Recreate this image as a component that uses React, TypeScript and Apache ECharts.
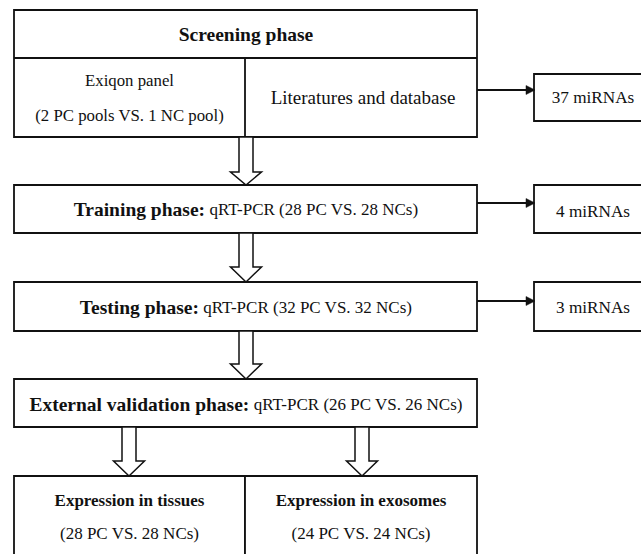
import React, { useEffect, useRef } from "react";
import * as echarts from "echarts";

// ---- content ----
const screeningTitle = "Screening phase";
const screeningLeft = ["Exiqon panel", "(2 PC pools VS. 1 NC pool)"];
const screeningRight = "Literatures and database";
const phaseNames = ["Training phase:", "Testing phase:", "External validation phase:"];
const phaseMethods = [
  "qRT-PCR (28 PC VS. 28 NCs)",
  "qRT-PCR (32 PC VS. 32 NCs)",
  "qRT-PCR (26 PC VS. 26 NCs)",
];
const resultLabels = ["37 miRNAs", "4 miRNAs", "3 miRNAs"];
const finalTitles = ["Expression in tissues", "Expression in exosomes"];
const finalSamples = ["(28 PC VS. 28 NCs)", "(24 PC VS. 24 NCs)"];

// ---- layout ----
const L = 14;
const R = 477;
const MID = 245;
const CX = 246;
const FONT = "Liberation Serif";
const BORDER = 1.8;

const phaseBoxes = [
  { y1: 185, y2: 233, ty: 209, ay: 203 },
  { y1: 282, y2: 331, ty: 307, ay: 301 },
  { y1: 379, y2: 427, ty: 404 },
];
const resultBoxes = [
  { y1: 74, y2: 121, ty: 97, ay: 90 },
  { y1: 185, y2: 233, ty: 211, ay: 203 },
  { y1: 282, y2: 331, ty: 307, ay: 301 },
];

function rect(x1: number, y1: number, x2: number, y2: number) {
  return {
    type: "rect",
    shape: { x: x1, y: y1, width: x2 - x1, height: y2 - y1 },
    style: { fill: "#fff", stroke: "#111", lineWidth: BORDER },
  };
}

function line(x1: number, y1: number, x2: number, y2: number, w = BORDER) {
  return {
    type: "line",
    shape: { x1, y1, x2, y2 },
    style: { stroke: "#111", lineWidth: w },
  };
}

function text(x: number, y: number, t: string, size: number, bold = false) {
  return {
    type: "text",
    x,
    y,
    style: {
      text: t,
      fontFamily: FONT,
      fontSize: size,
      fontWeight: bold ? "bold" : "normal",
      fill: "#111",
      align: "center",
      verticalAlign: "middle",
    },
  };
}

function hollowArrow(cx: number, top: number, headTop: number, tip: number) {
  const s = 7;
  const h = 15.5;
  return {
    type: "polygon",
    shape: {
      points: [
        [cx - s, top],
        [cx - s, headTop],
        [cx - h, headTop],
        [cx, tip],
        [cx + h, headTop],
        [cx + s, headTop],
        [cx + s, top],
      ],
    },
    style: { fill: "#fff", stroke: "#111", lineWidth: 1.5 },
  };
}

function sideArrow(y: number) {
  return [
    line(R, y, 527, y, 2),
    {
      type: "polygon",
      shape: { points: [[526, y - 4.5], [535, y], [526, y + 4.5]] },
      style: { fill: "#111", stroke: "#111", lineWidth: 0.5 },
    },
  ];
}

export default function App() {
  const ref = useRef<HTMLDivElement>(null);
  useEffect(() => {
    if (!ref.current) return;
    const chart = echarts.init(ref.current, undefined, { renderer: "svg" });
    const els: any[] = [];

    // Screening box
    els.push(rect(L, 10, R, 137));
    els.push(line(L, 58, R, 58));
    els.push(line(MID, 58, MID, 137));
    els.push(text(CX, 34, screeningTitle, 19.5, true));
    els.push(text((L + MID) / 2, 80, screeningLeft[0], 16.8));
    els.push(text((L + MID) / 2, 115, screeningLeft[1], 16.8));
    els.push(text(363, 97, screeningRight, 19));

    // Phase boxes
    phaseBoxes.forEach((b, i) => {
      els.push(rect(L, b.y1, R, b.y2));
      els.push({
        type: "text",
        x: CX,
        y: b.ty,
        style: {
          text: `{b|${phaseNames[i]}} {r|${phaseMethods[i]}}`,
          align: "center",
          verticalAlign: "middle",
          fill: "#111",
          fontFamily: FONT,
          fontSize: 17,
          rich: {
            b: { fontFamily: FONT, fontSize: 19.5, fontWeight: "bold", fill: "#111" },
            r: { fontFamily: FONT, fontSize: 17, fill: "#111" },
          },
        },
      });
    });

    // Result boxes + side arrows
    resultBoxes.forEach((b, i) => {
      els.push(rect(534, b.y1, 660, b.y2));
      els.push(text(593, b.ty, resultLabels[i], 17.2));
      els.push(...sideArrow(b.ay));
    });

    // Final boxes
    els.push(rect(L, 476, MID, 570));
    els.push(rect(MID, 476, R, 570));
    const finalCenters = [(L + MID) / 2, (MID + R) / 2];
    finalCenters.forEach((cx, i) => {
      els.push(text(cx, 500, finalTitles[i], 17, true));
      els.push(text(cx, 533, finalSamples[i], 17));
    });

    // Hollow arrows
    els.push(hollowArrow(CX, 137, 172, 185));
    els.push(hollowArrow(CX, 233, 267, 282));
    els.push(hollowArrow(CX, 331, 364, 379));
    els.push(hollowArrow(129, 427, 461, 476));
    els.push(hollowArrow(362, 427, 461, 476));

    chart.setOption({
      animation: false,
      backgroundColor: "#fff",
      graphic: { elements: els },
    });
    return () => chart.dispose();
  }, []);
  return (
    <div
      ref={ref}
      style={{ position: "fixed", left: 0, top: 0, width: 641, height: 554, background: "#fff" }}
    />
  );
}
